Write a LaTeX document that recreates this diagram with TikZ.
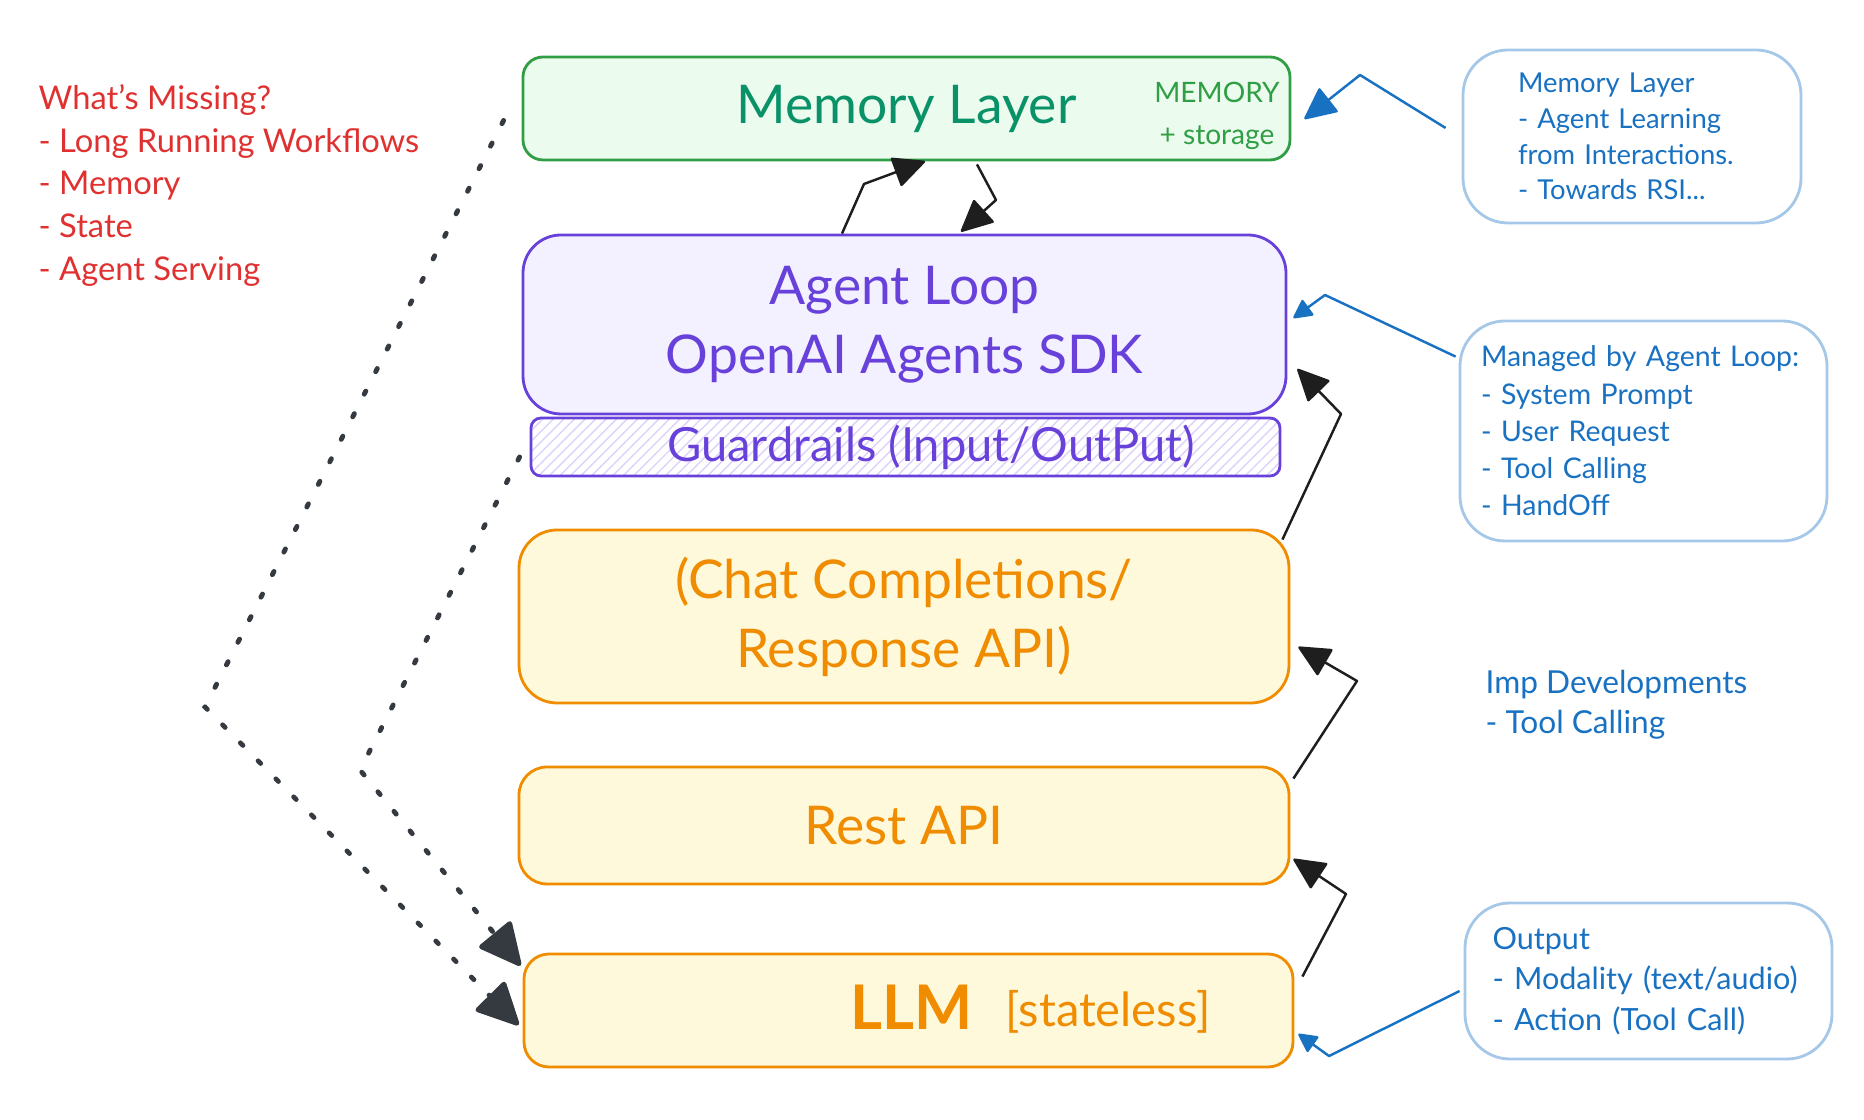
\documentclass[tikz,border=0pt]{standalone}
\usepackage{fontspec}
\setmainfont{Lato}
\usetikzlibrary{arrows.meta,patterns}

\definecolor{memline}{HTML}{2F9E44}
\definecolor{memfill}{HTML}{EBFBEE}
\definecolor{memtext}{HTML}{099268}
\definecolor{loopline}{HTML}{6741D9}
\definecolor{loopfill}{HTML}{F3F0FF}
\definecolor{hatch}{HTML}{DDD3FA}
\definecolor{apiline}{HTML}{F08C00}
\definecolor{apifill}{HTML}{FFF9DB}
\definecolor{noteblue}{HTML}{1971C2}
\definecolor{noteline}{HTML}{A5C7E8}
\definecolor{missred}{HTML}{E03131}
\definecolor{dotgray}{HTML}{343A40}
\definecolor{inkblack}{HTML}{1E1E1E}

\newcommand\layerfont{\fontsize{15.2}{19.7}\selectfont}

\tikzset{
  layer/.style={draw, line width=0.8pt, inner sep=0pt, align=center, font=\layerfont},
  note/.style={draw=noteline, line width=0.8pt, rounded corners=0.45cm, inner ysep=0pt,
    align=left, text=noteblue},
  link/.style={draw=inkblack, line width=0.7pt, line join=round,
    -{Triangle[length=0.33cm,width=0.31cm,round]}},
  bluelink/.style={link, draw=noteblue},
  smalltip/.style={-{Triangle[length=0.2cm,width=0.2cm,round]}},
  dotlink/.style={draw=dotgray, line width=1.4pt, line cap=round, dash pattern=on 1pt off 6.2pt,
    -{Triangle[length=0.45cm,width=0.43cm,round]}}
}

\begin{document}
\begin{tikzpicture}

  \useasboundingbox (0,0) rectangle (18.64,11.2);

  % stack of layers
  \node[layer, rounded corners=0.2cm, draw=memline, fill=memfill, text=memtext,
    minimum width=7.67cm, minimum height=1.03cm] (mem) at (9.065,10.115) {Memory Layer};
  \node[layer, rounded corners=0.38cm, draw=loopline, fill=loopfill, text=loopline,
    minimum width=7.63cm, minimum height=1.79cm] (agent) at (9.045,7.955) {Agent Loop\\OpenAI Agents SDK};
  \node[layer, rounded corners=0.1cm, draw=loopline, pattern=north east lines, pattern color=hatch,
    minimum width=7.49cm, minimum height=0.58cm] (guard) at (9.055,6.73) {};
  \node[layer, rounded corners=0.38cm, draw=apiline, fill=apifill, text=apiline,
    minimum width=7.70cm, minimum height=1.73cm] (chat) at (9.04,5.035) {(Chat Completions/\\Response API)};
  \node[layer, rounded corners=0.28cm, draw=apiline, fill=apifill, text=apiline,
    minimum width=7.70cm, minimum height=1.17cm] (rest) at (9.04,2.945) {Rest API};
  \node[layer, rounded corners=0.25cm, draw=apiline, fill=apifill,
    minimum width=7.69cm, minimum height=1.13cm] (llm) at (9.085,1.095) {};

  \node[align=center, text=memline, font=\fontsize{8}{12}\selectfont] (memtag) at (12.17,10.04) {MEMORY\\+ storage};
  \node[text=loopline, font=\fontsize{13.4}{16}\selectfont] (guardtxt) at (9.31,6.73) {Guardrails (Input/OutPut)};
  \node[anchor=base west, inner sep=0pt, text=apiline, font=\fontsize{17.5}{19}\selectfont\bfseries] (llmtxt) at (8.50,0.90) {LLM};
  \node[anchor=base west, inner sep=0pt, text=apiline, font=\fontsize{13.4}{16}\selectfont] (stateless) at (10.05,0.93) {[stateless]};

  % side notes
  \node[note, text width=2.28cm, inner xsep=0.55cm, minimum height=1.73cm, font=\fontsize{7.8}{10.2}\selectfont]
    (memnote) at (16.32,9.835) {Memory Layer\\- Agent Learning\\from Interactions.\\- Towards RSI...};
  \node[note, text width=3.25cm, inner xsep=0.21cm, minimum height=2.2cm, font=\fontsize{8.1}{10.6}\selectfont]
    (mgnote) at (16.435,6.89) {Managed by Agent Loop:\\- System Prompt\\- User Request\\- Tool Calling\\- HandOff};
  \node[note, text width=3.12cm, inner xsep=0.275cm, minimum height=1.56cm, font=\fontsize{8.7}{11.5}\selectfont]
    (outnote) at (16.485,1.39) {Output\\- Modality (text/audio)\\- Action (Tool Call)};
  \node[anchor=west, inner sep=0pt, align=left, text=noteblue, font=\fontsize{9}{11.5}\selectfont]
    (imp) at (14.85,4.15) {Imp Developments\\- Tool Calling};
  \node[anchor=west, inner sep=0pt, align=left, text=missred, font=\fontsize{9.3}{12.1}\selectfont]
    (missing) at (0.38,9.345) {What's Missing?\\- Long Running Workflows\\- Memory\\- State\\- Agent Serving};

  % flow between layers
  \draw[link] ([xshift=-0.625cm]agent.north) -- (8.64,9.36) -- ([xshift=0.185cm]mem.south);
  \draw[link] ([xshift=0.705cm,yshift=-0.03cm]mem.south) -- (9.96,9.20) -- ([xshift=0.565cm,yshift=0.02cm]agent.north);
  \draw[link] ([shift={(-0.08,-0.11)}]chat.north east) -- (13.41,7.06) -- ([shift={(0.10,-0.445)}]agent.east);
  \draw[link] ([shift={(0.03,-0.13)}]rest.north east) -- (13.57,4.39) -- ([shift={(0.08,-0.305)}]chat.east);
  \draw[link] ([shift={(0.08,-0.24)}]llm.north east) -- (13.46,2.26) -- ([shift={(0.03,-0.335)}]rest.east);

  \draw[bluelink] ([shift={(-0.16,0.085)}]memnote.west) -- (13.60,10.45) -- ([shift={(0.13,-0.105)}]mem.east);
  \draw[bluelink, smalltip] ([shift={(-0.03,-0.37)}]mgnote.north west) -- (13.25,8.25) -- ([shift={(0.06,0.065)}]agent.east);
  \draw[bluelink, smalltip] ([shift={(-0.04,-0.10)}]outnote.west) -- (13.29,0.64) -- ([shift={(0.04,-0.235)}]llm.east);

  \draw[dotlink] ([shift={(-0.18,-0.12)}]mem.west) -- (2.05,4.13) -- ([shift={(-0.04,-0.145)}]llm.west);
  \draw[dotlink] ([shift={(-0.10,-0.10)}]guard.west) -- (3.60,3.50) -- ([shift={(-0.02,-0.13)}]llm.north west);

\end{tikzpicture}
\end{document}
